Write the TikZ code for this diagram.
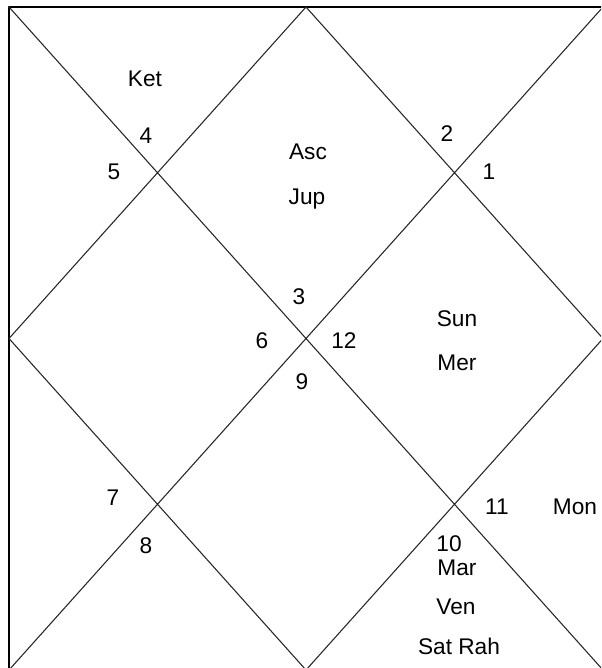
\documentclass[tikz,border=0pt]{standalone}
\usepackage{fontspec}
\setmainfont{Liberation Sans}
\begin{document}
\begin{tikzpicture}[x=0.75pt,y=-0.75pt,line join=round,line cap=round,font=\fontsize{17}{20}\selectfont,
	lbl/.style={inner sep=0pt,text height=12.2pt,text depth=0pt}]
			\def\xl{9} \def\xr{603} \def\yt{7} \def\yb{670} % khung: trái, phải, trên, dưới
			\def\xm{306} \def\ym{338.5} % tâm
			\useasboundingbox (0,0) rectangle (601,668);
			\clip (0,0) rectangle (601,668);
			\coordinate (tl) at (\xl,\yt); \coordinate (tr) at (\xr,\yt);
			\coordinate (bl) at (\xl,\yb); \coordinate (br) at (\xr,\yb);
			\coordinate (top) at (\xm,\yt); \coordinate (bot) at (\xm,\yb);
			\coordinate (lft) at (\xl,\ym); \coordinate (rgt) at (\xr,\ym);
			\draw[line width=1.5pt] (tl) rectangle (br);
			\draw[line width=0.8pt,black!85] (tl)--(br) (tr)--(bl) (top)--(lft)--(bot)--(rgt)--cycle;
			% số nhà
			\node[lbl] (h1) at (489,171) {1};
			\node[lbl] (h2) at (447,133) {2};
			\node[lbl] (h3) at (299,296) {3};
			\node[lbl] (h4) at (146,135) {4};
			\node[lbl] (h5) at (114,171) {5};
			\node[lbl] (h6) at (262,340) {6};
			\node[lbl] (h7) at (113,497) {7};
			\node[lbl] (h8) at (146,545) {8};
			\node[lbl] (h9) at (302,381) {9};
			\node[lbl] (h10) at (449,543) {10};
			\node[lbl] (h11) at (497,506) {11};
			\node[lbl] (h12) at (344,340) {12};
			% hành tinh
			\node[lbl] (ket) at (145,78) {Ket};
			\node[lbl] (asc) at (308,151) {Asc};
			\node[lbl] (jup) at (307,196) {Jup};
			\node[lbl] (sun) at (457,318) {Sun};
			\node[lbl] (mer) at (457,362) {Mer};
			\node[lbl] (mon) at (575,506) {Mon};
			\node[lbl] (mar) at (457,567) {Mar};
			\node[lbl] (ven) at (456,606) {Ven};
			\node[lbl] (satrah) at (459,646) {Sat Rah};
	\end{tikzpicture}
\end{document}
